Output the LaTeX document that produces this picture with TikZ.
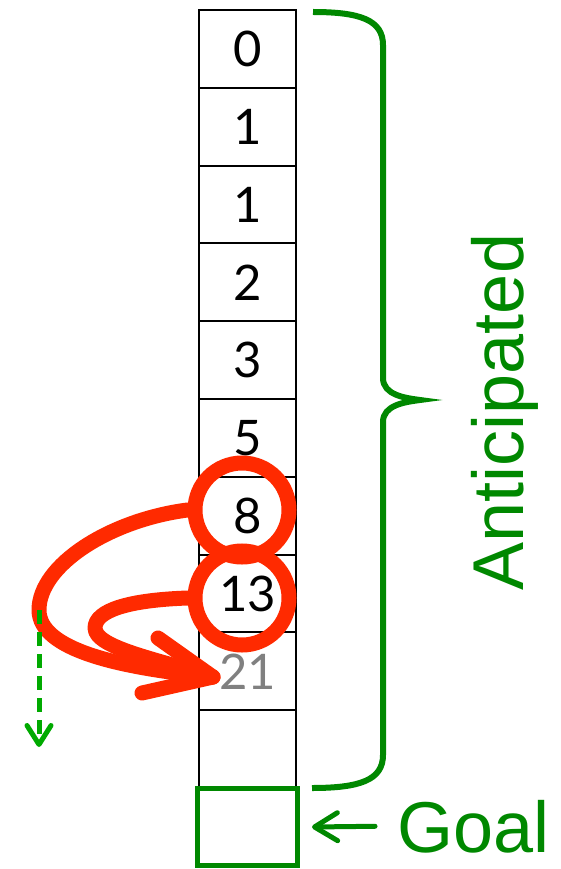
\documentclass[tikz,border=0pt]{standalone}
\usepackage{fontspec}
\setmainfont{Liberation Sans}
\newfontfamily\digitfont{Lato}
\usetikzlibrary{arrows.meta}
\definecolor{dkgreen}{RGB}{0,136,0}
\definecolor{ltgreen}{RGB}{0,170,0}
\definecolor{hotred}{RGB}{255,42,0}
\definecolor{numgray}{RGB}{128,128,128}
\newcommand{\dg}[1]{\raisebox{-3pt}{#1}}
\begin{document}
\begin{tikzpicture}[x=1pt,y=-1pt,
  cell/.style={draw=black,line width=2pt,minimum width=97pt,minimum height=77.8pt,
    inner sep=0pt,font=\digitfont\fontsize{49}{49}\selectfont},
  goalbox/.style={draw=dkgreen,line width=5pt,minimum width=100pt,minimum height=77pt,inner sep=0pt},
  ring/.style={circle,draw=hotred,line width=15pt,minimum size=94pt,inner sep=0pt},
  redline/.style={draw=hotred,line width=15pt,line cap=round,line join=round},
  bracestyle/.style={draw=dkgreen,line width=6pt},
  greenlabel/.style={text=dkgreen,inner sep=0pt,font=\fontsize{72}{72}\selectfont},
  goalarrow/.style={draw=dkgreen,line width=5pt,line cap=round,line join=round,
    -{Straight Barb[length=23pt,width=28pt,round]}},
  dasharrow/.style={draw=ltgreen,line width=5pt,dash pattern=on 14pt off 8pt,
    -{Straight Barb[length=19pt,width=24pt,round]}}]
\useasboundingbox (0,0) rectangle (561,869);
% cells
\node[cell] (c0) at (247.5,48.9) {\dg{0}};
\node[cell] (c1) at (247.5,126.7) {\dg{1}};
\node[cell] (c2) at (247.5,204.5) {\dg{1}};
\node[cell] (c3) at (247.5,282.3) {\dg{2}};
\node[cell] (c4) at (247.5,360.1) {\dg{3}};
\node[cell] (c5) at (247.5,437.9) {\dg{5}};
\node[cell] (c6) at (247.5,515.7) {\dg{8}};
\node[cell] (c7) at (247.5,593.5) {\dg{13}};
\node[cell,text=numgray] (c8) at (247.5,671.3) {\dg{21}};
\node[cell] (c9) at (247.5,749.1) {};
% goal
\node[goalbox] (goal) at (247.5,827) {};
\node[greenlabel,anchor=base west] (goaltext) at (397,852) {Goal};
\draw[goalarrow] ([xshift=-22pt]goaltext.west) -- ([xshift=12pt]goal.east);
% brace
\coordinate (btop) at (313,12);
\coordinate (bbot) at (312,788);
\draw[bracestyle] (btop) .. controls (360,12) and (383,20) .. (383,45) -- (383,378)
  .. controls (383,395) and (405,398) .. (420,400)
  .. controls (405,402) and (383,405) .. (383,422) -- (383,755)
  .. controls (383,780) and (360,788) .. (bbot);
\node[greenlabel,rotate=90,anchor=base] (antic) at (523,412) {Anticipated};
% red rings and arrows
\node[ring] (r8) at (242,510) {};
\node[ring] (r13) at (242,598) {};
\coordinate (tip) at (213,677);
\coordinate (bend) at (39,610);
\draw[redline] (r8.west) .. controls (110,520) and (39,565) .. (bend)
  .. controls (39,650) and (120,668) .. (tip);
\draw[redline] (r13.west) .. controls (130,600) and (95,610) .. (95,628)
  .. controls (95,648) and (160,660) .. (tip);
\draw[redline] (158,638) -- (tip) -- (142,693);
% green dashed arrow
\coordinate (dashend) at (39,747);
\draw[dasharrow] (bend) -- (dashend);
\end{tikzpicture}
\end{document}
